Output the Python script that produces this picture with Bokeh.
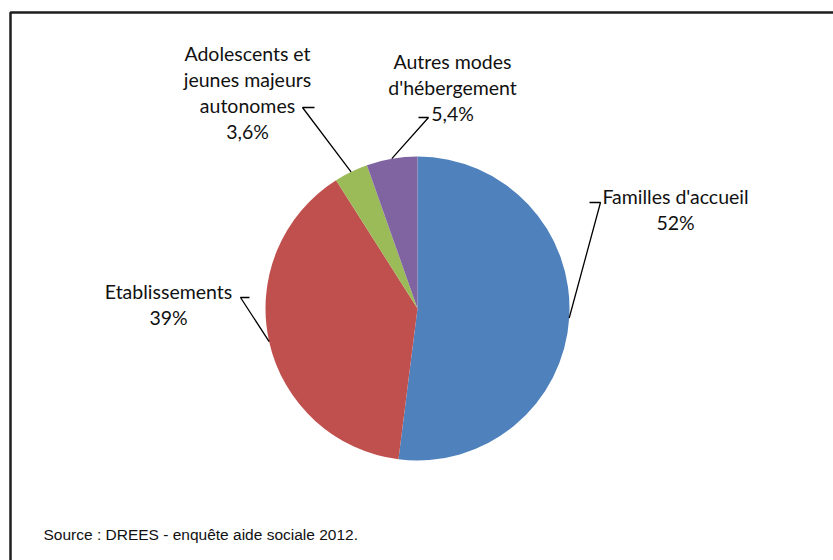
import math
from bokeh.plotting import figure
from bokeh.models import Range1d
from bokeh.core.properties import value
from bokeh.embed import file_html
from bokeh.resources import INLINE

# ---- data ----
categories = ["Familles d'accueil", "Etablissements",
              "Adolescents et jeunes majeurs autonomes", "Autres modes d'hébergement"]
shares = [52.0, 39.0, 3.6, 5.4]
share_labels = ["52%", "39%", "3,6%", "5,4%"]
label_lines = [["Familles d'accueil"], ["Etablissements"],
               ["Adolescents et", "jeunes majeurs", "autonomes"],
               ["Autres modes", "d'hébergement"]]
colors = ["#4F81BD", "#C0504D", "#9BBB59", "#8064A2"]
source_text = "Source : DREES - enquête aide sociale 2012."

# ---- layout (picture pixels -> data) ----
W, H = 833, 560
OX, OY = 0, 0
def dx(X): return X - OX
def dy(Y): return (OY + H) - Y

cx, cy, R = dx(417), dy(308), 152
# label block centre (x, first line y), elbow and end of horizontal tick
label_pos = [(675, 196), (168, 291), (247, 53), (452, 61)]
elbows = [((600, 202), (589, 202)), ((240, 297), (249, 297)),
          ((302, 107), (314, 107)), ((428, 117), (418, 117))]
line_step = 26

p = figure(width=W, height=H, output_backend="svg", toolbar_location=None,
           x_range=Range1d(0, W), y_range=Range1d(0, H),
           min_border=0, outline_line_color=None)
p.axis.visible = False
p.grid.visible = False
p.background_fill_color = "white"

# border frame
p.line([dx(10), dx(10), W + 5], [-5, dy(12), dy(12)], line_color="#1e1e1e", line_width=2.5)

total = sum(shares)
cum = 0.0
starts, ends, mids = [], [], []
for s in shares:
    a0 = math.pi / 2 - 2 * math.pi * cum / total
    cum += s
    a1 = math.pi / 2 - 2 * math.pi * cum / total
    starts.append(a0); ends.append(a1); mids.append((a0 + a1) / 2)

p.wedge(x=[cx] * 4, y=[cy] * 4, radius=R, start_angle=starts, end_angle=ends,
        direction="clock", fill_color=colors, line_color=None)

font = value("Lato")
fs = "19.5px"
for i in range(4):
    lx, ly = label_pos[i]
    lines = label_lines[i] + [share_labels[i]]
    for j, t in enumerate(lines):
        p.text(x=[dx(lx)], y=[dy(ly + j * line_step)], text=[t], text_font=font,
               text_font_size=fs, text_align="center", text_baseline="middle",
               text_color="#111111")
    # leader line
    ex = cx + R * math.cos(mids[i])
    ey = cy + R * math.sin(mids[i])
    (e1x, e1y), (e2x, e2y) = elbows[i]
    p.line([ex, dx(e1x), dx(e2x)], [ey, dy(e1y), dy(e2y)], line_color="black", line_width=1.3)

p.text(x=[dx(43)], y=[dy(534)], text=[source_text], text_font=value("Liberation Sans"),
       text_font_size="15.5px", text_align="left", text_baseline="middle", text_color="#111111")

open("out.html", "w").write(file_html(p, INLINE))
